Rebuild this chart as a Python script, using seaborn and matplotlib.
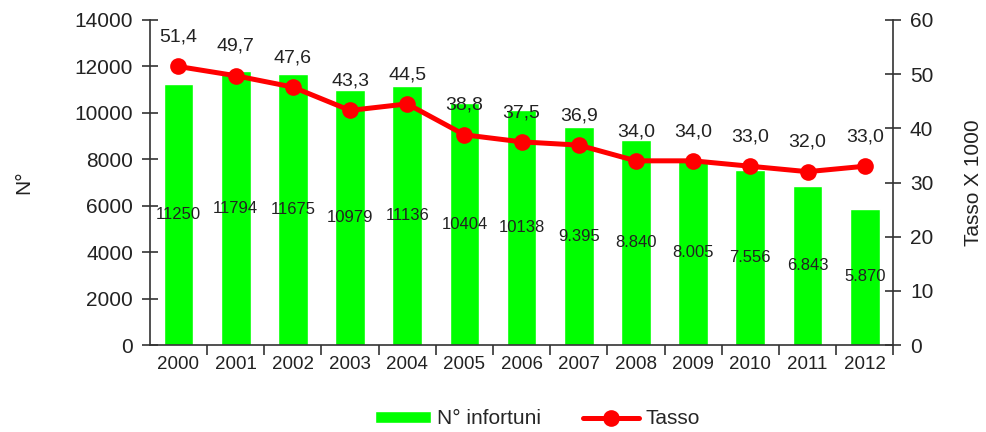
import numpy as np
import matplotlib
matplotlib.use("Agg")
import matplotlib.pyplot as plt
import seaborn as sns

years = ["2000", "2001", "2002", "2003", "2004", "2005", "2006",
         "2007", "2008", "2009", "2010", "2011", "2012"]
infortuni = [11250, 11794, 11675, 10979, 11136, 10404, 10138,
             9395, 8840, 8005, 7556, 6843, 5870]
bar_labels = ["11250", "11794", "11675", "10979", "11136", "10404", "10138",
              "9.395", "8.840", "8.005", "7.556", "6.843", "5.870"]
tasso = [51.4, 49.7, 47.6, 43.3, 44.5, 38.8, 37.5, 36.9, 34.0, 34.0, 33.0, 32.0, 33.0]

sns.set_style("white")
plt.rcParams['font.family'] = ['Liberation Sans', 'DejaVu Sans']
txt = "#222222"

fig = plt.figure(figsize=(9.86, 4.32), dpi=100)
ax = fig.add_axes([0.152, 0.201, 0.754, 0.753])

sns.barplot(x=years, y=infortuni, color="#00ff00", saturation=1, width=0.52,
            ax=ax, label="N° infortuni")
ax.bar_label(ax.containers[0], labels=bar_labels, label_type="center",
             fontsize=12, color=txt)
if ax.get_legend() is not None:
    ax.get_legend().remove()

ax.set_xlim(-0.5, len(years) - 0.5)
ax.set_ylim(0, 14000)
ax.set_yticks(np.arange(0, 14001, 2000))
ax.set_ylabel("N°", fontsize=15, color=txt, labelpad=30)
ax.set_xlabel("")
ax.tick_params(axis="y", labelsize=15, labelcolor=txt, direction="inout",
               length=12, width=1.2, color="#333333", pad=6, left=True)
ax.tick_params(axis="x", which="major", length=0, labelsize=13.5,
               labelcolor=txt, pad=8)
ax.set_xticks(np.arange(len(years)) + 0.5, minor=True)
ax.tick_params(axis="x", which="minor", direction="out", length=7,
               width=1.2, color="#333333", bottom=True)

ax2 = ax.twinx()
sns.lineplot(x=np.arange(len(years)), y=tasso, color="#ff0000", linewidth=3.6,
             marker="o", markersize=12, markeredgewidth=0, ax=ax2,
             label="Tasso", legend=False)
for i, v in enumerate(tasso):
    ax2.annotate(f"{v:.1f}".replace(".", ","), (i, v), xytext=(0, 15),
                 textcoords="offset points", ha="center", va="bottom",
                 fontsize=14, color=txt)
ax2.set_ylim(0, 60)
ax2.set_yticks(np.arange(0, 61, 10))
ax2.set_ylabel("Tasso X 1000", fontsize=15, color=txt, labelpad=22)
ax2.tick_params(axis="y", labelsize=15, labelcolor=txt, direction="inout",
                length=12, width=1.2, color="#333333", pad=6, right=True)

for a in (ax, ax2):
    a.spines["top"].set_visible(False)
    for s in ("left", "right", "bottom"):
        a.spines[s].set_color("#333333")
        a.spines[s].set_linewidth(1.2)
ax.spines["right"].set_visible(False)
ax2.spines["left"].set_visible(False)
ax2.spines["bottom"].set_visible(False)

h1, l1 = ax.get_legend_handles_labels()
h2, l2 = ax2.get_legend_handles_labels()
fig.legend(h1 + h2, l1 + l2, loc="lower center", bbox_to_anchor=(0.545, -0.035),
           ncol=2, frameon=False, fontsize=15, handlelength=2.7,
           handleheight=0.5, columnspacing=2.0, handletextpad=0.3)

fig.savefig("out.png", dpi=100)
